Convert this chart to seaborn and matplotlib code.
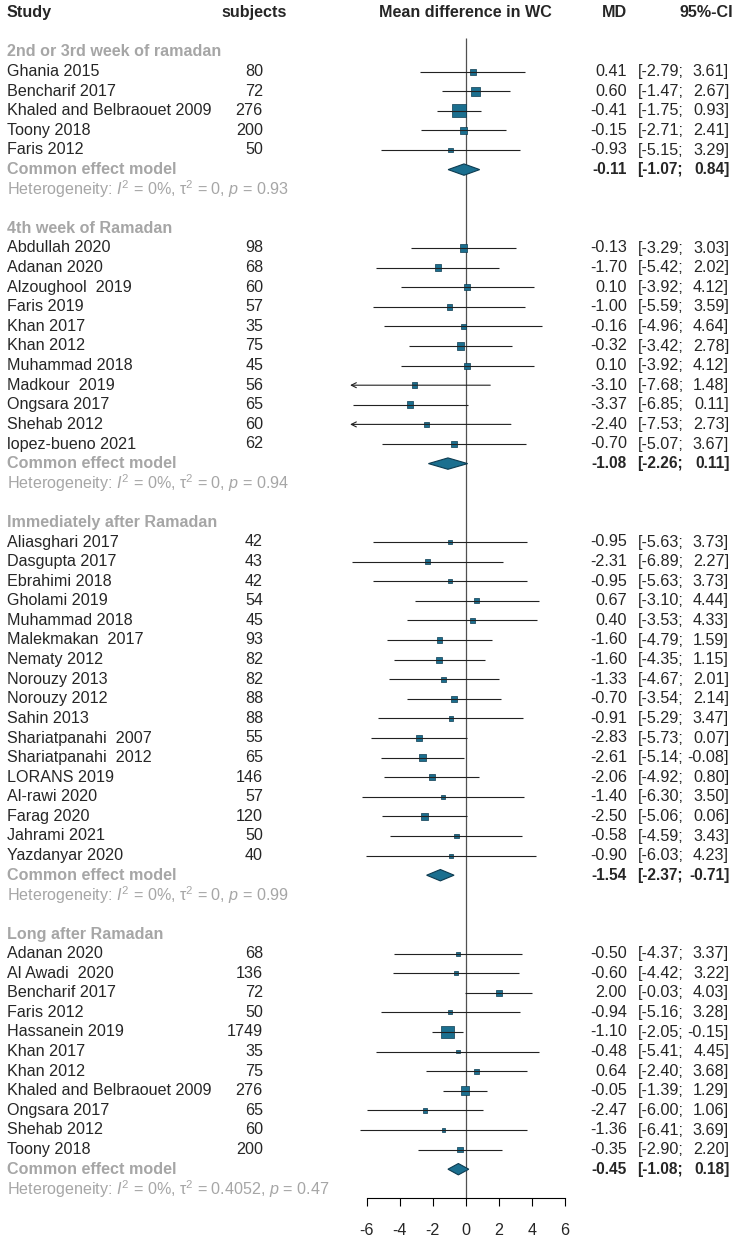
import numpy as np
import pandas as pd
import seaborn as sns
import matplotlib
matplotlib.use("Agg")
import matplotlib.pyplot as plt
from matplotlib.transforms import blended_transform_factory
from matplotlib.patches import Polygon

## DATA ##
titles = ["2nd or 3rd week of ramadan", "4th week of Ramadan",
          "Immediately after Ramadan", "Long after Ramadan"]

studies1 = ["Ghania 2015", "Bencharif 2017", "Khaled and Belbraouet 2009", "Toony 2018", "Faris 2012"]
n1 = [80, 72, 276, 200, 50]
md1 = [0.41, 0.60, -0.41, -0.15, -0.93]
lo1 = [-2.79, -1.47, -1.75, -2.71, -5.15]
hi1 = [3.61, 2.67, 0.93, 2.41, 3.29]

studies2 = ["Abdullah 2020", "Adanan 2020", "Alzoughool  2019", "Faris 2019", "Khan 2017", "Khan 2012",
            "Muhammad 2018", "Madkour  2019", "Ongsara 2017", "Shehab 2012", "lopez-bueno 2021"]
n2 = [98, 68, 60, 57, 35, 75, 45, 56, 65, 60, 62]
md2 = [-0.13, -1.70, 0.10, -1.00, -0.16, -0.32, 0.10, -3.10, -3.37, -2.40, -0.70]
lo2 = [-3.29, -5.42, -3.92, -5.59, -4.96, -3.42, -3.92, -7.68, -6.85, -7.53, -5.07]
hi2 = [3.03, 2.02, 4.12, 3.59, 4.64, 2.78, 4.12, 1.48, 0.11, 2.73, 3.67]

studies3 = ["Aliasghari 2017", "Dasgupta 2017", "Ebrahimi 2018", "Gholami 2019", "Muhammad 2018",
            "Malekmakan  2017", "Nematy 2012", "Norouzy 2013", "Norouzy 2012", "Sahin 2013",
            "Shariatpanahi  2007", "Shariatpanahi  2012", "LORANS 2019", "Al-rawi 2020",
            "Farag 2020", "Jahrami 2021", "Yazdanyar 2020"]
n3 = [42, 43, 42, 54, 45, 93, 82, 82, 88, 88, 55, 65, 146, 57, 120, 50, 40]
md3 = [-0.95, -2.31, -0.95, 0.67, 0.40, -1.60, -1.60, -1.33, -0.70, -0.91, -2.83, -2.61, -2.06,
       -1.40, -2.50, -0.58, -0.90]
lo3 = [-5.63, -6.89, -5.63, -3.10, -3.53, -4.79, -4.35, -4.67, -3.54, -5.29, -5.73, -5.14, -4.92,
       -6.30, -5.06, -4.59, -6.03]
hi3 = [3.73, 2.27, 3.73, 4.44, 4.33, 1.59, 1.15, 2.01, 2.14, 3.47, 0.07, -0.08, 0.80, 3.50,
       0.06, 3.43, 4.23]

studies4 = ["Adanan 2020", "Al Awadi  2020", "Bencharif 2017", "Faris 2012", "Hassanein 2019",
            "Khan 2017", "Khan 2012", "Khaled and Belbraouet 2009", "Ongsara 2017", "Shehab 2012",
            "Toony 2018"]
n4 = [68, 136, 72, 50, 1749, 35, 75, 276, 65, 60, 200]
md4 = [-0.50, -0.60, 2.00, -0.94, -1.10, -0.48, 0.64, -0.05, -2.47, -1.36, -0.35]
lo4 = [-4.37, -4.42, -0.03, -5.16, -2.05, -5.41, -2.40, -1.39, -6.00, -6.41, -2.90]
hi4 = [3.37, 3.22, 4.03, 3.28, -0.15, 4.45, 3.68, 1.29, 1.06, 3.69, 2.20]

pooled_md = [-0.11, -1.08, -1.54, -0.45]
pooled_lo = [-1.07, -2.26, -2.37, -1.08]
pooled_hi = [0.84, 0.11, -0.71, 0.18]
het_tau2 = ["0", "0", "0", "0.4052"]
het_p = ["0.93", "0.94", "0.99", "0.47"]

xticks = [-6, -4, -2, 0, 2, 4, 6]

## STYLE ##
sns.set_style("white")
plt.rcParams['font.family'] = ['Liberation Sans', 'DejaVu Sans']
plt.rcParams['mathtext.fontset'] = 'custom'
plt.rcParams['mathtext.rm'] = 'Liberation Sans'
plt.rcParams['mathtext.it'] = 'Liberation Sans:italic'
plt.rcParams['mathtext.bf'] = 'Liberation Sans:bold'

FS = 11.6
FSB = 11.2
TEAL = "#1b6f8f"
DARK = "#0d3b50"
GREY = "#a6a6a6"
W, H = 738, 1240
ROW0, ROWH = 52, 19.6   # pixel y of first group title, row height
XLIM = 7

# build study table
blocks = [(studies1, n1, md1, lo1, hi1), (studies2, n2, md2, lo2, hi2),
          (studies3, n3, md3, lo3, hi3), (studies4, n4, md4, lo4, hi4)]
rows = []
group_rows = []
r = 0
for g, (st, nn, md, lo, hi) in enumerate(blocks):
    title_row = r
    r += 1
    se = (np.array(hi) - np.array(lo)) / (2 * 1.96)
    w = 1 / se ** 2
    pct = 100 * w / w.sum()
    for i in range(len(st)):
        rows.append(dict(group=g, y=r, study=st[i], n=nn[i], md=md[i], lo=lo[i], hi=hi[i], pct=pct[i]))
        r += 1
    group_rows.append((title_row, r))
    r += 3
df = pd.DataFrame(rows)

fig = plt.figure(figsize=(W / 100, H / 100), dpi=100)
x0_px = 465.8
px_per_unit = 16.53
axis_px = 1198
ax = fig.add_axes([(x0_px - XLIM * px_per_unit) / W, (H - axis_px) / H,
                   2 * XLIM * px_per_unit / W, axis_px / H])
y_bottom = (axis_px - ROW0) / ROWH
y_top = -ROW0 / ROWH
ax.set_xlim(-XLIM, XLIM)
ax.set_ylim(y_bottom, y_top)

# reference line
ax.vlines(0, -0.7, y_bottom, color="#505050", lw=0.9, zorder=1)

# CI lines
for _, d in df.iterrows():
    if d.lo < -XLIM:
        ax.annotate("", xy=(-XLIM, d.y), xytext=(d.hi, d.y),
                    arrowprops=dict(arrowstyle="->", lw=0.8, color="#222222",
                                    shrinkA=0, shrinkB=0, mutation_scale=9), zorder=4)
    else:
        ax.hlines(d.y, d.lo, d.hi, color="#222222", lw=0.8, zorder=4)

# squares
sns.scatterplot(data=df, x="md", y="y", size="pct", sizes=(4, 172), size_norm=(0, 100),
                marker="s", color=TEAL, edgecolor=DARK, linewidth=0.5, legend=False,
                ax=ax, zorder=3)

# diamonds
for g, (title_row, crow) in enumerate(group_rows):
    m, l, h = pooled_md[g], pooled_lo[g], pooled_hi[g]
    ax.add_patch(Polygon([(l, crow), (m, crow - 0.29), (h, crow), (m, crow + 0.29)],
                         closed=True, facecolor=TEAL, edgecolor=DARK, lw=0.8, zorder=5))

# axis styling
for s in ["top", "left", "right"]:
    ax.spines[s].set_visible(False)
ax.spines["bottom"].set_bounds(-6, 6)
ax.spines["bottom"].set_color("black")
ax.spines["bottom"].set_linewidth(0.8)
ax.set_xticks(xticks)
ax.set_xticklabels([str(t) for t in xticks])
ax.set_yticks([])
ax.tick_params(axis="x", length=5.8, width=0.8, pad=12.5, labelsize=FS, direction="out",
               bottom=True, color="black")
ax.set_xlabel("")
ax.set_ylabel("")

# text columns
tr = blended_transform_factory(fig.transFigure, ax.transData)
def put(px, y, s, ha="left", size=FS, **kw):
    ax.text(px / W, y, s, transform=tr, ha=ha, va="center", fontsize=size, clip_on=False, **kw)

hy = -2
put(7, hy, "Study", weight="bold")
put(254, hy, "subjects", ha="center", weight="bold")
ax.text(0, hy, "Mean difference in WC", ha="center", va="center", fontsize=FS,
        weight="bold", clip_on=False)
put(627, hy, "MD", ha="right", weight="bold")
put(733, hy, "95%-CI", ha="right", weight="bold")

for _, d in df.iterrows():
    put(7, d.y, d.study)
    put(263, d.y, str(d.n), ha="right")
    put(627, d.y, f"{d.md:.2f}", ha="right")
    put(638, d.y, f"[{d.lo:.2f};")
    put(729, d.y, f"{d.hi:.2f}]", ha="right")

for g, (title_row, crow) in enumerate(group_rows):
    put(7, title_row, titles[g], color=GREY, weight="bold")
    put(7, crow, "Common effect model", color=GREY, weight="bold")
    put(627, crow, f"{pooled_md[g]:.2f}", ha="right", weight="bold", size=FSB)
    put(637, crow, f"[{pooled_lo[g]:.2f};", weight="bold", size=FSB)
    put(730, crow, f"{pooled_hi[g]:.2f}]", ha="right", weight="bold", size=FSB)
    put(7, crow + 1, "Heterogeneity: $I^2$ = 0%, τ$^2$ = " + het_tau2[g] + ", $p$ = " + het_p[g],
        color=GREY)

fig.savefig("out.png", dpi=100)
